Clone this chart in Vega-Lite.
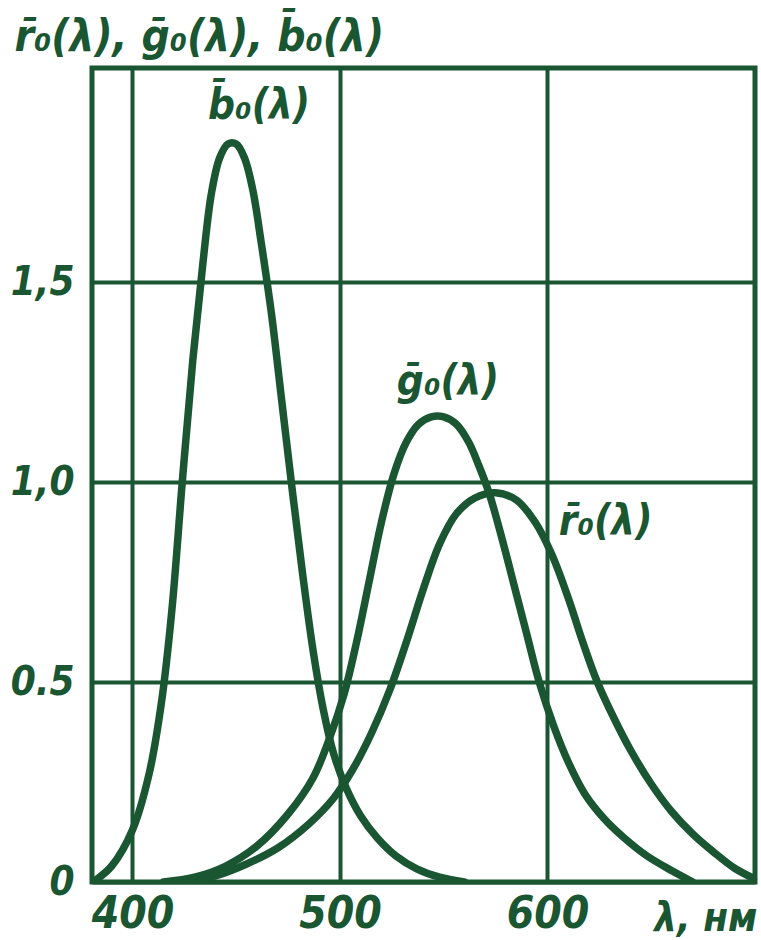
{
  "$schema": "https://vega.github.io/schema/vega-lite/v6.json",
  "width": 663,
  "height": 814,
  "autosize": "none",
  "padding": {"left": 92, "top": 68, "right": 6, "bottom": 58},
  "background": "white",
  "config": {
    "view": {"stroke": "#1a5632", "strokeWidth": 5},
    "font": "DejaVu Sans Condensed, DejaVu Sans, sans-serif"
  },
  "datasets": {
    "curves": [
      {"s": "b", "lam": 381, "v": 0},
      {"s": "b", "lam": 390, "v": 0.04},
      {"s": "b", "lam": 400, "v": 0.13},
      {"s": "b", "lam": 408, "v": 0.27},
      {"s": "b", "lam": 414, "v": 0.45},
      {"s": "b", "lam": 419, "v": 0.68},
      {"s": "b", "lam": 424, "v": 1.0},
      {"s": "b", "lam": 429, "v": 1.3},
      {"s": "b", "lam": 434, "v": 1.55},
      {"s": "b", "lam": 438, "v": 1.72},
      {"s": "b", "lam": 442, "v": 1.81},
      {"s": "b", "lam": 446, "v": 1.845},
      {"s": "b", "lam": 450, "v": 1.845},
      {"s": "b", "lam": 454, "v": 1.81},
      {"s": "b", "lam": 458, "v": 1.73},
      {"s": "b", "lam": 462, "v": 1.6},
      {"s": "b", "lam": 467, "v": 1.42},
      {"s": "b", "lam": 472, "v": 1.2},
      {"s": "b", "lam": 477, "v": 0.98},
      {"s": "b", "lam": 482, "v": 0.77},
      {"s": "b", "lam": 487, "v": 0.58},
      {"s": "b", "lam": 492, "v": 0.43},
      {"s": "b", "lam": 497, "v": 0.32},
      {"s": "b", "lam": 503, "v": 0.235},
      {"s": "b", "lam": 510, "v": 0.165},
      {"s": "b", "lam": 518, "v": 0.11},
      {"s": "b", "lam": 527, "v": 0.065},
      {"s": "b", "lam": 537, "v": 0.033},
      {"s": "b", "lam": 548, "v": 0.012},
      {"s": "b", "lam": 560, "v": 0},
      {"s": "g", "lam": 415, "v": 0},
      {"s": "g", "lam": 430, "v": 0.012},
      {"s": "g", "lam": 445, "v": 0.04},
      {"s": "g", "lam": 460, "v": 0.09},
      {"s": "g", "lam": 475, "v": 0.17},
      {"s": "g", "lam": 487, "v": 0.26},
      {"s": "g", "lam": 495, "v": 0.36},
      {"s": "g", "lam": 502, "v": 0.47},
      {"s": "g", "lam": 508, "v": 0.6},
      {"s": "g", "lam": 514, "v": 0.75},
      {"s": "g", "lam": 520, "v": 0.9},
      {"s": "g", "lam": 526, "v": 1.02},
      {"s": "g", "lam": 532, "v": 1.1},
      {"s": "g", "lam": 538, "v": 1.145},
      {"s": "g", "lam": 544, "v": 1.163},
      {"s": "g", "lam": 550, "v": 1.163},
      {"s": "g", "lam": 556, "v": 1.145},
      {"s": "g", "lam": 562, "v": 1.1},
      {"s": "g", "lam": 567, "v": 1.04},
      {"s": "g", "lam": 572, "v": 0.97},
      {"s": "g", "lam": 578, "v": 0.86},
      {"s": "g", "lam": 584, "v": 0.74},
      {"s": "g", "lam": 590, "v": 0.62},
      {"s": "g", "lam": 596, "v": 0.5},
      {"s": "g", "lam": 603, "v": 0.39},
      {"s": "g", "lam": 610, "v": 0.3},
      {"s": "g", "lam": 618, "v": 0.22},
      {"s": "g", "lam": 627, "v": 0.16},
      {"s": "g", "lam": 637, "v": 0.11},
      {"s": "g", "lam": 648, "v": 0.065},
      {"s": "g", "lam": 660, "v": 0.028},
      {"s": "g", "lam": 670, "v": 0},
      {"s": "r", "lam": 428, "v": 0},
      {"s": "r", "lam": 440, "v": 0.015},
      {"s": "r", "lam": 455, "v": 0.045},
      {"s": "r", "lam": 470, "v": 0.085},
      {"s": "r", "lam": 485, "v": 0.145},
      {"s": "r", "lam": 497, "v": 0.21},
      {"s": "r", "lam": 506, "v": 0.28},
      {"s": "r", "lam": 515, "v": 0.37},
      {"s": "r", "lam": 524, "v": 0.48},
      {"s": "r", "lam": 532, "v": 0.6},
      {"s": "r", "lam": 540, "v": 0.73},
      {"s": "r", "lam": 548, "v": 0.845},
      {"s": "r", "lam": 556, "v": 0.92},
      {"s": "r", "lam": 565, "v": 0.96},
      {"s": "r", "lam": 575, "v": 0.973},
      {"s": "r", "lam": 585, "v": 0.955},
      {"s": "r", "lam": 594, "v": 0.9},
      {"s": "r", "lam": 602, "v": 0.82},
      {"s": "r", "lam": 610, "v": 0.71},
      {"s": "r", "lam": 617, "v": 0.6},
      {"s": "r", "lam": 624, "v": 0.5},
      {"s": "r", "lam": 632, "v": 0.41},
      {"s": "r", "lam": 640, "v": 0.33},
      {"s": "r", "lam": 650, "v": 0.245},
      {"s": "r", "lam": 660, "v": 0.175},
      {"s": "r", "lam": 670, "v": 0.12},
      {"s": "r", "lam": 680, "v": 0.075},
      {"s": "r", "lam": 690, "v": 0.035},
      {"s": "r", "lam": 699, "v": 0.01}
    ],
    "labels": [
      {"text": "b̄₀(λ)", "lam": 461, "v": 1.94},
      {"text": "ḡ₀(λ)", "lam": 552, "v": 1.25},
      {"text": "r̄₀(λ)", "lam": 628, "v": 0.9}
    ]
  },
  "layer": [
    {
      "data": {"name": "curves"},
      "mark": {"type": "line", "color": "#1a5632", "strokeWidth": 7.5, "interpolate": "catmull-rom", "strokeCap": "round", "strokeJoin": "round", "clip": true},
      "encoding": {
        "x": {
          "field": "lam", "type": "quantitative",
          "scale": {"domain": [380.5, 700], "nice": false, "zero": false},
          "axis": {
            "values": [400, 500, 600],
            "grid": true, "gridColor": "#1a5632", "gridWidth": 4, "gridOpacity": 1,
            "domain": false, "ticks": false,
            "labelFont": "DejaVu Sans Condensed, DejaVu Sans, sans-serif",
            "labelFontSize": 44, "labelFontStyle": "italic", "labelFontWeight": "bold",
            "labelColor": "#1a5632", "labelPadding": 10, "labelBaseline": "top",
            "labelOverlap": false, "labelFlush": false,
            "title": "λ, нм",
            "titleFont": "DejaVu Sans Condensed, DejaVu Sans, sans-serif",
            "titleFontSize": 40, "titleFontStyle": "italic", "titleFontWeight": "bold",
            "titleColor": "#1a5632", "titleAnchor": "end", "titleAlign": "right",
            "titleBaseline": "alphabetic", "titleX": 665, "titleY": 48
          }
        },
        "y": {
          "field": "v", "type": "quantitative",
          "scale": {"domain": [0, 2.035], "nice": false},
          "axis": {
            "values": [0, 0.5, 1, 1.5],
            "labelExpr": "datum.value == 0 ? '0' : datum.value == 0.5 ? '0.5' : datum.value == 1 ? '1,0' : '1,5'",
            "grid": true, "gridColor": "#1a5632", "gridWidth": 4, "gridOpacity": 1,
            "domain": false, "ticks": false,
            "labelFont": "DejaVu Sans Condensed, DejaVu Sans, sans-serif",
            "labelFontSize": 40, "labelFontStyle": "italic", "labelFontWeight": "bold",
            "labelColor": "#1a5632", "labelPadding": 18, "labelBaseline": "middle",
            "labelOverlap": false, "labelFlush": false,
            "title": "r̄₀(λ), ḡ₀(λ), b̄₀(λ)",
            "titleFont": "DejaVu Sans Condensed, DejaVu Sans, sans-serif",
            "titleFontSize": 44, "titleFontStyle": "italic", "titleFontWeight": "bold",
            "titleColor": "#1a5632", "titleAngle": 0, "titleAlign": "left",
            "titleBaseline": "alphabetic", "titleX": -78, "titleY": -18
          }
        },
        "detail": {"field": "s", "type": "nominal"}
      }
    },
    {
      "data": {"name": "labels"},
      "mark": {"type": "text", "color": "#1a5632", "font": "DejaVu Sans Condensed, DejaVu Sans, sans-serif", "fontSize": 42, "fontStyle": "italic", "fontWeight": "bold", "align": "center", "baseline": "middle"},
      "encoding": {
        "x": {"field": "lam", "type": "quantitative"},
        "y": {"field": "v", "type": "quantitative"},
        "text": {"field": "text", "type": "nominal"}
      }
    }
  ]
}
